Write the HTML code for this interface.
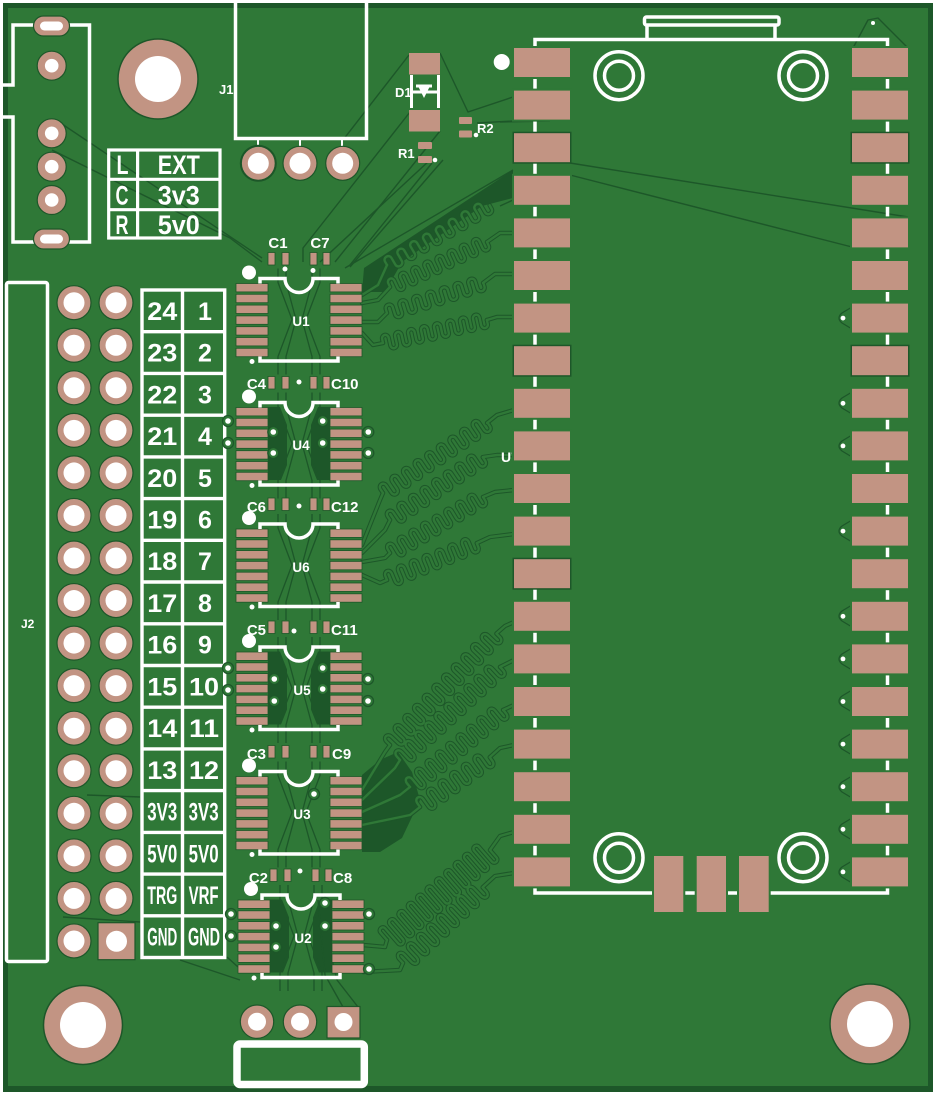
<!DOCTYPE html>
<html><head><meta charset="utf-8">
<style>
html,body{margin:0;padding:0;background:#fff;}
svg{display:block;}
text{font-family:"Liberation Sans",sans-serif;fill:#fff;}
</style></head>
<body>
<svg width="933" height="1093" viewBox="0 0 933 1093" xmlns="http://www.w3.org/2000/svg">
<defs>
 <g id="th"><circle r="17" fill="#c29483" stroke="#1d5729" stroke-width="1.2"/><circle r="10.5" fill="#fff"/></g>
 <g id="th2"><circle r="16.7" fill="#c29483" stroke="#1d5729" stroke-width="1.2"/><circle r="9" fill="#fff"/></g>
 <g id="th3"><circle r="14.5" fill="#c29483" stroke="#1d5729" stroke-width="1.2"/><circle r="6.8" fill="#fff"/></g>
 <rect id="mp" width="56" height="29"/>
 <path id="m6" vector-effect="non-scaling-stroke" d="M0 0v-4a3.5 3.5 0 0 1 7 0v8a3.5 3.5 0 0 0 7 0v-4v-4a3.5 3.5 0 0 1 7 0v8a3.5 3.5 0 0 0 7 0v-4v-4a3.5 3.5 0 0 1 7 0v8a3.5 3.5 0 0 0 7 0v-4v-4a3.5 3.5 0 0 1 7 0v8a3.5 3.5 0 0 0 7 0v-4v-4a3.5 3.5 0 0 1 7 0v8a3.5 3.5 0 0 0 7 0v-4v-4a3.5 3.5 0 0 1 7 0v8a3.5 3.5 0 0 0 7 0v-4"/>
 <path id="m7" vector-effect="non-scaling-stroke" d="M0 0v-4a3.5 3.5 0 0 1 7 0v8a3.5 3.5 0 0 0 7 0v-4v-4a3.5 3.5 0 0 1 7 0v8a3.5 3.5 0 0 0 7 0v-4v-4a3.5 3.5 0 0 1 7 0v8a3.5 3.5 0 0 0 7 0v-4v-4a3.5 3.5 0 0 1 7 0v8a3.5 3.5 0 0 0 7 0v-4v-4a3.5 3.5 0 0 1 7 0v8a3.5 3.5 0 0 0 7 0v-4v-4a3.5 3.5 0 0 1 7 0v8a3.5 3.5 0 0 0 7 0v-4v-4a3.5 3.5 0 0 1 7 0v8a3.5 3.5 0 0 0 7 0v-4"/>
 <path id="m8" vector-effect="non-scaling-stroke" d="M0 0v-4a3.5 3.5 0 0 1 7 0v8a3.5 3.5 0 0 0 7 0v-4v-4a3.5 3.5 0 0 1 7 0v8a3.5 3.5 0 0 0 7 0v-4v-4a3.5 3.5 0 0 1 7 0v8a3.5 3.5 0 0 0 7 0v-4v-4a3.5 3.5 0 0 1 7 0v8a3.5 3.5 0 0 0 7 0v-4v-4a3.5 3.5 0 0 1 7 0v8a3.5 3.5 0 0 0 7 0v-4v-4a3.5 3.5 0 0 1 7 0v8a3.5 3.5 0 0 0 7 0v-4v-4a3.5 3.5 0 0 1 7 0v8a3.5 3.5 0 0 0 7 0v-4v-4a3.5 3.5 0 0 1 7 0v8a3.5 3.5 0 0 0 7 0v-4"/>
 <path id="m9" vector-effect="non-scaling-stroke" d="M0 0v-4a3.5 3.5 0 0 1 7 0v8a3.5 3.5 0 0 0 7 0v-4v-4a3.5 3.5 0 0 1 7 0v8a3.5 3.5 0 0 0 7 0v-4v-4a3.5 3.5 0 0 1 7 0v8a3.5 3.5 0 0 0 7 0v-4v-4a3.5 3.5 0 0 1 7 0v8a3.5 3.5 0 0 0 7 0v-4v-4a3.5 3.5 0 0 1 7 0v8a3.5 3.5 0 0 0 7 0v-4v-4a3.5 3.5 0 0 1 7 0v8a3.5 3.5 0 0 0 7 0v-4v-4a3.5 3.5 0 0 1 7 0v8a3.5 3.5 0 0 0 7 0v-4v-4a3.5 3.5 0 0 1 7 0v8a3.5 3.5 0 0 0 7 0v-4v-4a3.5 3.5 0 0 1 7 0v8a3.5 3.5 0 0 0 7 0v-4"/>
 <path id="m10" vector-effect="non-scaling-stroke" d="M0 0v-4a3.5 3.5 0 0 1 7 0v8a3.5 3.5 0 0 0 7 0v-4v-4a3.5 3.5 0 0 1 7 0v8a3.5 3.5 0 0 0 7 0v-4v-4a3.5 3.5 0 0 1 7 0v8a3.5 3.5 0 0 0 7 0v-4v-4a3.5 3.5 0 0 1 7 0v8a3.5 3.5 0 0 0 7 0v-4v-4a3.5 3.5 0 0 1 7 0v8a3.5 3.5 0 0 0 7 0v-4v-4a3.5 3.5 0 0 1 7 0v8a3.5 3.5 0 0 0 7 0v-4v-4a3.5 3.5 0 0 1 7 0v8a3.5 3.5 0 0 0 7 0v-4v-4a3.5 3.5 0 0 1 7 0v8a3.5 3.5 0 0 0 7 0v-4v-4a3.5 3.5 0 0 1 7 0v8a3.5 3.5 0 0 0 7 0v-4v-4a3.5 3.5 0 0 1 7 0v8a3.5 3.5 0 0 0 7 0v-4"/>
 <path id="m11" vector-effect="non-scaling-stroke" d="M0 0v-4a3.5 3.5 0 0 1 7 0v8a3.5 3.5 0 0 0 7 0v-4v-4a3.5 3.5 0 0 1 7 0v8a3.5 3.5 0 0 0 7 0v-4v-4a3.5 3.5 0 0 1 7 0v8a3.5 3.5 0 0 0 7 0v-4v-4a3.5 3.5 0 0 1 7 0v8a3.5 3.5 0 0 0 7 0v-4v-4a3.5 3.5 0 0 1 7 0v8a3.5 3.5 0 0 0 7 0v-4v-4a3.5 3.5 0 0 1 7 0v8a3.5 3.5 0 0 0 7 0v-4v-4a3.5 3.5 0 0 1 7 0v8a3.5 3.5 0 0 0 7 0v-4v-4a3.5 3.5 0 0 1 7 0v8a3.5 3.5 0 0 0 7 0v-4v-4a3.5 3.5 0 0 1 7 0v8a3.5 3.5 0 0 0 7 0v-4v-4a3.5 3.5 0 0 1 7 0v8a3.5 3.5 0 0 0 7 0v-4v-4a3.5 3.5 0 0 1 7 0v8a3.5 3.5 0 0 0 7 0v-4"/>
 <path id="mT" vector-effect="non-scaling-stroke" d="M0 0v-10a3 3 0 0 1 6 0v20a3 3 0 0 0 6 0v-10v-10a3 3 0 0 1 6 0v20a3 3 0 0 0 6 0v-10v-10a3 3 0 0 1 6 0v20a3 3 0 0 0 6 0v-10v-10a3 3 0 0 1 6 0v20a3 3 0 0 0 6 0v-10v-10a3 3 0 0 1 6 0v20a3 3 0 0 0 6 0v-10v-10a3 3 0 0 1 6 0v20a3 3 0 0 0 6 0v-10v-10a3 3 0 0 1 6 0v20a3 3 0 0 0 6 0v-10v-10a3 3 0 0 1 6 0v20a3 3 0 0 0 6 0v-10v-10a3 3 0 0 1 6 0v20a3 3 0 0 0 6 0v-10v-10a3 3 0 0 1 6 0v20a3 3 0 0 0 6 0v-10v-10a3 3 0 0 1 6 0v20a3 3 0 0 0 6 0v-10"/>

 <g id="trc" fill="none" stroke-linejoin="round" stroke-linecap="round">
  <use href="#m8" transform="translate(387,265) rotate(-30.2) scale(1.06,1)"/>
  <use href="#m8" transform="translate(390,287) rotate(-24.9) scale(.955,1)"/>
  <use href="#m7" transform="translate(387,313) rotate(-17.4) scale(1.03,1)"/>
  <use href="#m8" transform="translate(383,343) rotate(-12.5) scale(.95,1)"/>
  <polyline points="362,295 378,285 387,265"/>
  <polyline points="362,303 378,300 390,287"/>
  <polyline points="362,322 378,322 387,313"/>
  <polyline points="362,333 373,345 383,343"/>
  <polyline points="487,242 500,233 514,233"/>
  <polyline points="483,283 495,274 514,274"/>
  <polyline points="487,320 497,317 514,317"/>
  <use href="#m9" transform="translate(383,493) rotate(-34) scale(1,1.1)"/>
  <use href="#m8" transform="translate(390,520) rotate(-34.1) scale(1,1.1)"/>
  <use href="#m8" transform="translate(390,553) rotate(-31) scale(.97,1.1)"/>
  <use href="#m7" transform="translate(387,580) rotate(-22.3) scale(.99,1.1)"/>
  <polyline points="362,545 380,500 383,493"/>
  <polyline points="362,553 385,530 390,520"/>
  <polyline points="362,562 385,558 390,553"/>
  <polyline points="362,575 380,583 387,580"/>
  <polyline points="487,423 497,415 514,410"/>
  <polyline points="483,457 497,455 514,455"/>
  <polyline points="483,497 495,492 514,490"/>
  <polyline points="477,543 490,537 514,534"/>
  <use href="#m11" transform="translate(390,745) rotate(-46.3) scale(1,1.2)"/>
  <use href="#m10" transform="translate(400,760) rotate(-42.9) scale(.976,1.2)"/>
  <use href="#m9" transform="translate(410,787) rotate(-39.6) scale(.96,1.2)"/>
  <use href="#m6" transform="translate(420,807) rotate(-35.5) scale(1.02,1.2)"/>
  <polyline points="362,790 385,752 390,745"/>
  <polyline points="362,800 395,768 400,760"/>
  <polyline points="362,812 400,795 410,787"/>
  <polyline points="362,825 410,815 420,807"/>
  <polyline points="497,633 505,626 514,622"/>
  <polyline points="500,667 514,660"/>
  <polyline points="503,710 514,705"/>
  <polyline points="490,757 500,748 514,745"/>
  <use href="#mT" transform="translate(387,940) rotate(-41.1) scale(1.036,1)"/>
  <use href="#m8" transform="translate(403,963) rotate(-43.5) scale(.98,1.3)"/>
  <polyline points="363,945 385,947 387,940"/>
  <polyline points="363,972 400,970 403,963"/>
  <polyline points="490,850 500,836 514,832"/>
  <polyline points="483,887 495,876 514,873"/>
 </g>

 <g id="ic">
  <g fill="#c29483" stroke="#1d5729" stroke-width=".8">
   <rect x="236" y="5" width="32" height="8.4"/><rect x="236" y="15.8" width="32" height="8.4"/><rect x="236" y="26.6" width="32" height="8.4"/><rect x="236" y="37.4" width="32" height="8.4"/><rect x="236" y="48.2" width="32" height="8.4"/><rect x="236" y="59" width="32" height="8.4"/><rect x="236" y="69.8" width="32" height="8.4"/>
   <rect x="330" y="5" width="32" height="8.4"/><rect x="330" y="15.8" width="32" height="8.4"/><rect x="330" y="26.6" width="32" height="8.4"/><rect x="330" y="37.4" width="32" height="8.4"/><rect x="330" y="48.2" width="32" height="8.4"/><rect x="330" y="59" width="32" height="8.4"/><rect x="330" y="69.8" width="32" height="8.4"/>
   <rect x="268" y="-26" width="7" height="12.5"/><rect x="282" y="-26" width="7" height="12.5"/><rect x="310" y="-26" width="7" height="12.5"/><rect x="323" y="-26" width="7" height="12.5"/>
  </g>
  <path d="M260 5V0H285A14 14 0 0 0 313 0H338V5M260 78V82.5H338V78" fill="none" stroke="#fff" stroke-width="3.5"/>
  <circle cx="249" cy="-6" r="7" fill="#fff"/>
  <circle cx="252" cy="83" r="2.5" fill="#fff"/>
 </g>
 <g id="icdark" fill="#1d5729">
  <path d="M268,407 L280,407 L287,425 L287,465 L281,480 L268,480Z"/>
  <path d="M330,407 L318,407 L311,425 L311,465 L317,480 L330,480Z"/>
 </g>
 <g id="icx" fill="none" stroke="#1d5729" stroke-width="1.3">
  <polyline points="278,-10 278,4 292,41 278,78 278,96"/>
  <polyline points="286,-10 286,4 296,41 286,78 286,96"/>
  <polyline points="320,-10 320,4 306,41 320,78 320,96"/>
  <polyline points="312,-10 312,4 302,41 312,78 312,96"/>
 </g>
 <g id="via"><circle r="5.5" fill="#2f7837" stroke="#1d5729" stroke-width="1.3"/><circle r="2.8" fill="#fff"/></g>
</defs>

<rect x="3" y="3" width="930" height="1089" fill="#1d5729"/>
<rect x="8" y="8" width="920" height="1078" fill="#2f7837"/>

<g fill="#1d5729">
 <path d="M362,292 L364,268 L513,170 L513,198 L482,206 L402,262 L385,292Z"/>
 <path d="M362,775 L380,760 L398,752 L412,772 L420,800 L402,838 L380,852 L362,852Z"/>
</g>
<use href="#icdark"/>
<use href="#icdark" transform="translate(0,244.5)"/>
<use href="#icdark" transform="translate(2,492.5)"/>

<g fill="none" stroke="#1d5729" stroke-width="1.4" stroke-linejoin="round">
 <path d="M62,124 L262,258"/>
 <path d="M52,150 L230,238 L262,262"/>
 <path d="M409,55 L343,140"/>
 <path d="M410,112 L303,248 L303,262"/>
 <path d="M440,131 L335,262"/>
 <path d="M432,163 L350,265"/>
 <path d="M350,267 L443,160"/>
 <path d="M320,262 L430,160"/>
 <path d="M345,268 L513,170"/>
 <path d="M440,53 L468,112 L513,97"/>
 <path d="M477,123 L513,121"/>
 <path d="M570,163 L908,217"/>
 <path d="M570,175 L852,247"/>
 <path d="M853,48 L868,20 L878,18 L908,48"/>
 <path d="M63,917 L140,922"/>
 <path d="M87,795 L140,797"/>
 <path d="M180,960 L240,980"/>
 <path d="M227,957 L238,967"/>
 <path d="M343,1007 L325,975 L318,900"/>
 <path d="M358,1007 L337,980 L332,960"/>
 <path d="M500,206 L513,200"/>
 <path d="M500,122 L550,121"/>
</g>
<use href="#icx" transform="translate(0,278.5)"/>
<use href="#icx" transform="translate(0,402.5)"/>
<use href="#icx" transform="translate(0,524)"/>
<use href="#icx" transform="translate(0,647)"/>
<use href="#icx" transform="translate(0,771.5)"/>
<use href="#icx" transform="translate(2,895)"/>

<use href="#trc" stroke="#1d5729" stroke-width="4.4"/>
<use href="#trc" stroke="#2f7837" stroke-width="2.4"/>

<path d="M0,85 H13 V25 H89.5 V242 H13 V117 H0" fill="none" stroke="#fff" stroke-width="3.5"/>
<rect x="33.5" y="16" width="36" height="20" rx="10" fill="#c29483" stroke="#1d5729" stroke-width="1.2"/>
<rect x="40" y="21.5" width="23" height="9" rx="4.5" fill="#fff"/>
<rect x="33.5" y="229" width="36" height="20" rx="10" fill="#c29483" stroke="#1d5729" stroke-width="1.2"/>
<rect x="40" y="234.5" width="23" height="9" rx="4.5" fill="#fff"/>
<use href="#th3" x="51.7" y="65.7"/>
<use href="#th3" x="51.7" y="133.3"/>
<use href="#th3" x="51.7" y="166.7"/>
<use href="#th3" x="51.7" y="200"/>

<circle cx="158" cy="79" r="40" fill="#c29483" stroke="#1d5729" stroke-width="1.5"/>
<circle cx="158" cy="79" r="23" fill="#fff"/>
<circle cx="83" cy="1025" r="39.5" fill="#c29483" stroke="#1d5729" stroke-width="1.5"/>
<circle cx="83" cy="1025" r="23" fill="#fff"/>
<circle cx="870" cy="1024" r="40" fill="#c29483" stroke="#1d5729" stroke-width="1.5"/>
<circle cx="870" cy="1024" r="23" fill="#fff"/>

<g fill="none" stroke="#fff" stroke-width="3.2">
 <rect x="108.7" y="150" width="111.3" height="88"/>
 <path d="M137.6,150 V238 M108.7,179.3 H220 M108.7,209.7 H220"/>
</g>
<g font-weight="bold" font-size="27" text-anchor="middle">
 <text x="122.5" y="174" textLength="12" lengthAdjust="spacingAndGlyphs">L</text>
 <text x="122" y="204.5" textLength="13" lengthAdjust="spacingAndGlyphs">C</text>
 <text x="122" y="234" textLength="13" lengthAdjust="spacingAndGlyphs">R</text>
 <text x="178.8" y="174" textLength="42" lengthAdjust="spacingAndGlyphs">EXT</text>
 <text x="178.8" y="204.5" textLength="42" lengthAdjust="spacingAndGlyphs">3v3</text>
 <text x="178.8" y="234" textLength="42" lengthAdjust="spacingAndGlyphs">5v0</text>
</g>

<path d="M235.5,0 V138.5 H366.5 V0" fill="none" stroke="#fff" stroke-width="3.5"/>
<path d="M258,139 V146 M300,139 V146 M342,139 V146" stroke="#fff" stroke-width="2"/>
<circle cx="258.3" cy="163.3" r="18.5" fill="#1d5729"/>
<use href="#th" x="258.3" y="163.3"/>
<use href="#th" x="300" y="163.3"/>
<use href="#th" x="342.7" y="163.3"/>
<text x="219" y="94" font-size="13" font-weight="bold">J1</text>

<rect x="409" y="53" width="31" height="21.5" fill="#c29483"/>
<rect x="409" y="110" width="31" height="21.5" fill="#c29483"/>
<path d="M411.5,75 V108 M438.5,75 V108 M413,92 H437 M416,86 H432" stroke="#fff" stroke-width="3" fill="none"/>
<path d="M418,86 L430,86 L424,98Z" fill="#fff"/>
<text x="395" y="97" font-size="13" font-weight="bold">D1</text>
<rect x="459" y="117" width="13" height="7" rx="1" fill="#c29483"/>
<rect x="459" y="130.5" width="13" height="7" rx="1" fill="#c29483"/>
<circle cx="476" cy="135" r="2.3" fill="#fff"/>
<text x="477" y="133" font-size="13" font-weight="bold">R2</text>
<rect x="418" y="142" width="14" height="7" rx="1" fill="#c29483"/>
<rect x="418" y="156" width="14" height="7" rx="1" fill="#c29483"/>
<circle cx="435" cy="160" r="2.3" fill="#fff"/>
<text x="398" y="158" font-size="13" font-weight="bold">R1</text>
<circle cx="501.7" cy="62" r="8" fill="#fff"/>

<rect x="6.5" y="282.5" width="41" height="679" rx="2" fill="none" stroke="#fff" stroke-width="3.5"/>
<text x="21" y="628" font-size="12" font-weight="bold">J2</text>

<g>
 <use href="#th" x="74" y="302.7"/><use href="#th" x="116" y="302.7"/>
 <use href="#th" x="74" y="345.25"/><use href="#th" x="116" y="345.25"/>
 <use href="#th" x="74" y="387.8"/><use href="#th" x="116" y="387.8"/>
 <use href="#th" x="74" y="430.35"/><use href="#th" x="116" y="430.35"/>
 <use href="#th" x="74" y="472.9"/><use href="#th" x="116" y="472.9"/>
 <use href="#th" x="74" y="515.45"/><use href="#th" x="116" y="515.45"/>
 <use href="#th" x="74" y="558"/><use href="#th" x="116" y="558"/>
 <use href="#th" x="74" y="600.55"/><use href="#th" x="116" y="600.55"/>
 <use href="#th" x="74" y="643.1"/><use href="#th" x="116" y="643.1"/>
 <use href="#th" x="74" y="685.65"/><use href="#th" x="116" y="685.65"/>
 <use href="#th" x="74" y="728.2"/><use href="#th" x="116" y="728.2"/>
 <use href="#th" x="74" y="770.75"/><use href="#th" x="116" y="770.75"/>
 <use href="#th" x="74" y="813.3"/><use href="#th" x="116" y="813.3"/>
 <use href="#th" x="74" y="855.85"/><use href="#th" x="116" y="855.85"/>
 <use href="#th" x="74" y="898.4"/><use href="#th" x="116" y="898.4"/>
 <use href="#th" x="74" y="940.95"/>
 <rect x="98" y="922.7" width="37" height="37" fill="#c29483" stroke="#1d5729" stroke-width="1.2"/>
 <circle cx="116.5" cy="941.3" r="10.5" fill="#fff"/>
</g>

<g fill="none" stroke="#fff" stroke-width="3.4">
 <rect x="142" y="290" width="82.7" height="667.5"/>
 <path d="M182.5,290 V957.5 M142,331.7 H224.7 M142,373.4 H224.7 M142,415.2 H224.7 M142,456.9 H224.7 M142,498.6 H224.7 M142,540.3 H224.7 M142,582 H224.7 M142,623.8 H224.7 M142,665.5 H224.7 M142,707.2 H224.7 M142,748.9 H224.7 M142,790.6 H224.7 M142,832.4 H224.7 M142,874.1 H224.7 M142,915.8 H224.7"/>
</g>
<g font-weight="bold" font-size="25" text-anchor="middle">
 <text x="162.3" y="319.9" textLength="30" lengthAdjust="spacingAndGlyphs">24</text>
 <text x="162.3" y="361.6" textLength="30" lengthAdjust="spacingAndGlyphs">23</text>
 <text x="162.3" y="403.3" textLength="30" lengthAdjust="spacingAndGlyphs">22</text>
 <text x="162.3" y="445.1" textLength="30" lengthAdjust="spacingAndGlyphs">21</text>
 <text x="162.3" y="486.8" textLength="30" lengthAdjust="spacingAndGlyphs">20</text>
 <text x="162.3" y="528.5" textLength="30" lengthAdjust="spacingAndGlyphs">19</text>
 <text x="162.3" y="570.2" textLength="30" lengthAdjust="spacingAndGlyphs">18</text>
 <text x="162.3" y="611.9" textLength="30" lengthAdjust="spacingAndGlyphs">17</text>
 <text x="162.3" y="653.7" textLength="30" lengthAdjust="spacingAndGlyphs">16</text>
 <text x="162.3" y="695.4" textLength="30" lengthAdjust="spacingAndGlyphs">15</text>
 <text x="162.3" y="737.1" textLength="30" lengthAdjust="spacingAndGlyphs">14</text>
 <text x="162.3" y="778.8" textLength="30" lengthAdjust="spacingAndGlyphs">13</text>
 <text x="162.3" y="820.5" textLength="30" lengthAdjust="spacingAndGlyphs">3V3</text>
 <text x="162.3" y="862.3" textLength="30" lengthAdjust="spacingAndGlyphs">5V0</text>
 <text x="162.3" y="904" textLength="30" lengthAdjust="spacingAndGlyphs">TRG</text>
 <text x="162.3" y="945.7" textLength="30" lengthAdjust="spacingAndGlyphs">GND</text>
 <text x="205" y="319.9">1</text>
 <text x="205" y="361.6">2</text>
 <text x="205" y="403.3">3</text>
 <text x="205" y="445.1">4</text>
 <text x="205" y="486.8">5</text>
 <text x="205" y="528.5">6</text>
 <text x="205" y="570.2">7</text>
 <text x="205" y="611.9">8</text>
 <text x="205" y="653.7">9</text>
 <text x="204" y="695.4" textLength="30" lengthAdjust="spacingAndGlyphs">10</text>
 <text x="204" y="737.1" textLength="30" lengthAdjust="spacingAndGlyphs">11</text>
 <text x="204" y="778.8" textLength="30" lengthAdjust="spacingAndGlyphs">12</text>
 <text x="203.6" y="820.5" textLength="30" lengthAdjust="spacingAndGlyphs">3V3</text>
 <text x="203.6" y="862.3" textLength="30" lengthAdjust="spacingAndGlyphs">5V0</text>
 <text x="203.6" y="904" textLength="30" lengthAdjust="spacingAndGlyphs">VRF</text>
 <text x="204" y="945.7" textLength="32" lengthAdjust="spacingAndGlyphs">GND</text>
</g>

<use href="#ic" transform="translate(0,278.5)"/>
<use href="#ic" transform="translate(0,402.5)"/>
<use href="#ic" transform="translate(0,524)"/>
<use href="#ic" transform="translate(0,647)"/>
<use href="#ic" transform="translate(0,771.5)"/>
<use href="#ic" transform="translate(2,895)"/>
<g font-weight="bold" font-size="13.5" text-anchor="middle">
 <text x="301" y="326">U1</text>
 <text x="301" y="450">U4</text>
 <text x="301" y="572">U6</text>
 <text x="302" y="695">U5</text>
 <text x="302" y="819">U3</text>
 <text x="303" y="943">U2</text>
</g>
<g font-weight="bold" font-size="15">
 <text x="278" y="248" text-anchor="middle">C1</text>
 <text x="320" y="248" text-anchor="middle">C7</text>
 <text x="266" y="389" text-anchor="end">C4</text>
 <text x="331" y="389">C10</text>
 <text x="266" y="512" text-anchor="end">C6</text>
 <text x="331" y="512">C12</text>
 <text x="266" y="635" text-anchor="end">C5</text>
 <text x="331" y="635">C11</text>
 <text x="266" y="759" text-anchor="end">C3</text>
 <text x="332" y="759">C9</text>
 <text x="268" y="883" text-anchor="end">C2</text>
 <text x="333" y="883">C8</text>
</g>
<g fill="#fff">
 <circle cx="285" cy="269" r="2.5"/><circle cx="313" cy="270.5" r="2.5"/>
 <circle cx="299" cy="382" r="2.5"/><circle cx="299" cy="506" r="2.5"/>
 <circle cx="294" cy="631" r="2.5"/><circle cx="300" cy="871" r="2.5"/>
</g>
<g>
 <use href="#via" x="273.3" y="432"/><use href="#via" x="273.3" y="453"/><use href="#via" x="322.7" y="421"/><use href="#via" x="322.7" y="443"/><use href="#via" x="368.3" y="432"/><use href="#via" x="368.3" y="453"/><use href="#via" x="228" y="421"/><use href="#via" x="228" y="443"/>
 <use href="#via" x="274.3" y="679"/><use href="#via" x="274.3" y="701"/><use href="#via" x="322.7" y="668"/><use href="#via" x="322.7" y="689"/><use href="#via" x="368" y="679"/><use href="#via" x="368" y="701"/><use href="#via" x="228" y="668"/><use href="#via" x="228" y="690"/>
 <use href="#via" x="276" y="926"/><use href="#via" x="276" y="947"/><use href="#via" x="325" y="903"/><use href="#via" x="325" y="926"/><use href="#via" x="369" y="914"/><use href="#via" x="369" y="969"/><use href="#via" x="231" y="914"/><use href="#via" x="231" y="936"/>
 <use href="#via" x="314" y="794"/>
</g>

<use href="#th2" x="257" y="1021.7"/>
<use href="#th2" x="300" y="1021.7"/>
<rect x="327" y="1006.5" width="33" height="31.5" fill="#c29483" stroke="#1d5729" stroke-width="1.2"/>
<circle cx="343.5" cy="1022" r="9" fill="#fff"/>
<rect x="237" y="1044" width="127.3" height="40.5" rx="3" fill="none" stroke="#fff" stroke-width="7.5"/>

<text x="501" y="462" font-size="14" font-weight="bold">U7</text>
<path d="M535,893 V39.5 H887.5 V893 Z" fill="none" stroke="#fff" stroke-width="3.5"/>
<rect x="644.5" y="17" width="134.5" height="8" rx="2" fill="none" stroke="#fff" stroke-width="3.5"/>
<path d="M647,25 V39.5 M775,25 V39.5" stroke="#fff" stroke-width="3.5"/>
<circle cx="873" cy="23" r="2" fill="#fff"/>
<g fill="none" stroke="#fff" stroke-width="3.5">
 <circle cx="619" cy="75.7" r="24"/><circle cx="619" cy="75.7" r="14.5"/>
 <circle cx="803" cy="75.7" r="24"/><circle cx="803" cy="75.7" r="14.5"/>
 <circle cx="619" cy="857.7" r="24"/><circle cx="619" cy="857.7" r="14.5"/>
 <circle cx="803" cy="857.7" r="24"/><circle cx="803" cy="857.7" r="14.5"/>
</g>
<g fill="none" stroke="#1d5729" stroke-width="1.3">
 <path d="M852,307 L842,313 Q836,318 842,323 L852,329"/>
 <path d="M852,392 L842,398 Q836,403 842,408 L852,414"/>
 <path d="M852,435 L842,441 Q836,446 842,451 L852,457"/>
 <path d="M852,520 L842,526 Q836,531 842,536 L852,542"/>
 <path d="M852,605 L842,611 Q836,616 842,621 L852,627"/>
 <path d="M852,648 L842,654 Q836,659 842,664 L852,670"/>
 <path d="M852,690 L842,696 Q836,701 842,706 L852,712"/>
 <path d="M852,733 L842,739 Q836,744 842,749 L852,755"/>
 <path d="M852,776 L842,782 Q836,787 842,792 L852,798"/>
 <path d="M852,818 L842,824 Q836,829 842,834 L852,840"/>
 <path d="M852,861 L842,867 Q836,872 842,877 L852,883"/>
</g>
<g fill="#fff">
 <circle cx="843" cy="318.1" r="2.4"/><circle cx="843" cy="403.3" r="2.4"/><circle cx="843" cy="445.9" r="2.4"/>
 <circle cx="843" cy="531.1" r="2.4"/><circle cx="843" cy="616.3" r="2.4"/><circle cx="843" cy="658.9" r="2.4"/>
 <circle cx="843" cy="701.5" r="2.4"/><circle cx="843" cy="744.1" r="2.4"/><circle cx="843" cy="786.7" r="2.4"/>
 <circle cx="843" cy="829.3" r="2.4"/><circle cx="843" cy="871.9" r="2.4"/>
</g>
<g fill="#c29483" stroke="#2f7837" stroke-width="4" paint-order="stroke">
 <use href="#mp" x="514" y="48"/><use href="#mp" x="514" y="90.6"/>
 <use href="#mp" x="514" y="175.8"/><use href="#mp" x="514" y="218.4"/><use href="#mp" x="514" y="261"/><use href="#mp" x="514" y="303.6"/>
 <use href="#mp" x="514" y="388.8"/><use href="#mp" x="514" y="431.4"/><use href="#mp" x="514" y="474"/><use href="#mp" x="514" y="516.6"/>
 <use href="#mp" x="514" y="601.8"/><use href="#mp" x="514" y="644.4"/><use href="#mp" x="514" y="687"/><use href="#mp" x="514" y="729.6"/><use href="#mp" x="514" y="772.2"/><use href="#mp" x="514" y="814.8"/><use href="#mp" x="514" y="857.4"/>
 <use href="#mp" x="852" y="48"/><use href="#mp" x="852" y="90.6"/>
 <use href="#mp" x="852" y="175.8"/><use href="#mp" x="852" y="218.4"/><use href="#mp" x="852" y="261"/><use href="#mp" x="852" y="303.6"/>
 <use href="#mp" x="852" y="388.8"/><use href="#mp" x="852" y="431.4"/><use href="#mp" x="852" y="474"/><use href="#mp" x="852" y="516.6"/><use href="#mp" x="852" y="559.2"/>
 <use href="#mp" x="852" y="601.8"/><use href="#mp" x="852" y="644.4"/><use href="#mp" x="852" y="687"/><use href="#mp" x="852" y="729.6"/><use href="#mp" x="852" y="772.2"/><use href="#mp" x="852" y="814.8"/><use href="#mp" x="852" y="857.4"/>
 <rect x="654" y="856" width="29.3" height="56"/>
 <rect x="696.7" y="856" width="29.3" height="56"/>
 <rect x="739" y="856" width="29.7" height="56"/>
</g>
<g fill="#c29483" stroke="#1d5729" stroke-width="3" paint-order="stroke">
 <use href="#mp" x="514" y="133.2"/><use href="#mp" x="514" y="346.2"/><use href="#mp" x="514" y="559.2"/>
 <use href="#mp" x="852" y="133.2"/><use href="#mp" x="852" y="346.2"/>
</g>
</svg>
</body></html>
